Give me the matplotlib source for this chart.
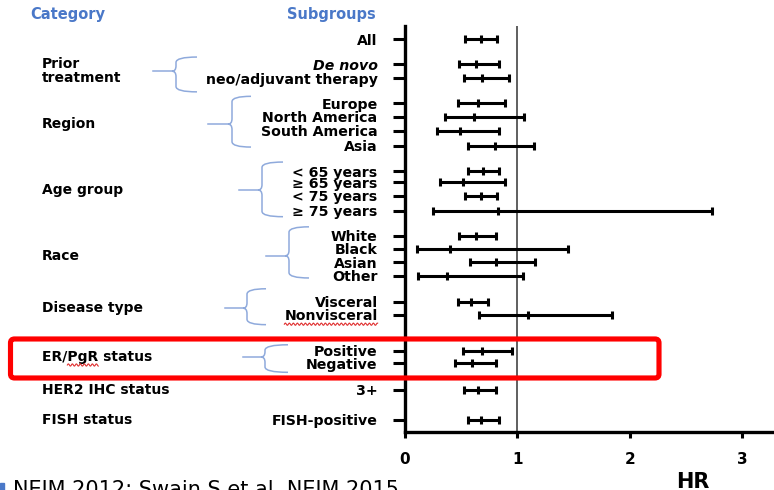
import matplotlib
matplotlib.use("Agg")
import matplotlib.pyplot as plt
import matplotlib.transforms as mtrans
from matplotlib.path import Path
from matplotlib.patches import PathPatch, FancyBboxPatch, Rectangle
import numpy as np

# ---- data ----
subgroups = ["All", "De novo", "neo/adjuvant therapy",
             "Europe", "North America", "South America", "Asia",
             "< 65 years", "≥ 65 years", "< 75 years", "≥ 75 years",
             "White", "Black", "Asian", "Other",
             "Visceral", "Nonvisceral",
             "Positive", "Negative",
             "3+", "FISH-positive"]
hr = [0.68, 0.63, 0.69,
      0.65, 0.62, 0.49, 0.80,
      0.70, 0.52, 0.68, 0.83,
      0.63, 0.40, 0.81, 0.38,
      0.59, 1.10,
      0.69, 0.60,
      0.65, 0.68]
ci_low = [0.54, 0.48, 0.53,
          0.47, 0.36, 0.29, 0.56,
          0.56, 0.31, 0.54, 0.25,
          0.48, 0.11, 0.58, 0.12,
          0.47, 0.66,
          0.52, 0.45,
          0.53, 0.56]
ci_high = [0.82, 0.84, 0.93,
           0.89, 1.06, 0.84, 1.15,
           0.84, 0.89, 0.82, 2.73,
           0.81, 1.45, 1.16, 1.05,
           0.74, 1.84,
           0.95, 0.81,
           0.81, 0.84]
categories = ["Prior\ntreatment", "Region", "Age group", "Race",
              "Disease type", "ER/PgR status", "HER2 IHC status", "FISH status"]
category_members = [[1, 2], [3, 4, 5, 6], [7, 8, 9, 10], [11, 12, 13, 14],
                    [15, 16], [17, 18], [19], [20]]
x_ticks = [0, 1, 2, 3]

# ---- layout ----
W, H = 774, 490
row_y = [0, 1.83, 2.89, 4.74, 5.73, 6.77, 7.88, 9.76, 10.59, 11.6, 12.7,
         14.56, 15.53, 16.52, 17.53, 19.44, 20.4, 23.07, 24.0, 25.98, 28.2]
# brace geometry per multi-row category: (tail start, spine x, hook end) px, (top pad, bottom pad) rows
brace_x = {0: (153, 176, 197), 1: (208, 232, 251), 2: (239, 262, 283),
           3: (266, 289, 309), 4: (225, 247, 266), 5: (243, 265, 288)}
brace_pad = {0: (0.52, 1.0), 1: (0.52, 0.1), 2: (0.67, 0.44),
             3: (0.67, 0.15), 4: (0.96, 0.74), 5: (0.44, 0.67)}

BLUE = "#4A78C8"
BRACE = "#8FAADC"
FONT = "DejaVu Sans"
plt.rcParams["font.family"] = [FONT]

fig = plt.figure(figsize=(W / 100, H / 100), dpi=100)
ax = fig.add_axes([404.7 / W, (H - 431.7) / H, (W - 404.7) / W, (431.7 - 26) / H])

hr_a = np.array(hr)
err = [hr_a - np.array(ci_low), np.array(ci_high) - hr_a]
ax.errorbar(hr, row_y, xerr=err, fmt="none", ecolor="black",
            elinewidth=2.2, capsize=3, capthick=2.2, zorder=3)
ax.plot(hr, row_y, ls="none", marker="|", ms=6, mew=2.2, color="black", zorder=4)
ax.axvline(1, color="#444444", lw=1.2, zorder=2)

ax.set_xlim(0, (W - 404.7) / 112.5)
ax.set_ylim(29.07, -0.99)
for s in ("top", "right"):
    ax.spines[s].set_visible(False)
for s in ("left", "bottom"):
    ax.spines[s].set_linewidth(2.4)

ax.set_xticks(x_ticks)
ax.set_xticklabels([str(t) for t in x_ticks], fontweight="bold", fontsize=11)
ax.tick_params(axis="x", length=4.5, width=2.2, pad=10)
ax.set_yticks(row_y)
ax.set_yticklabels(subgroups, fontweight="bold", fontsize=10.2)
ax.tick_params(axis="y", length=9, width=2.2, pad=10.5)
ax.get_yticklabels()[1].set_style("italic")

# headers
fig.text(30 / W, 1 - 14 / H, "Category", color=BLUE, fontweight="bold",
         fontsize=10.5, ha="left", va="center")
fig.text(376 / W, 1 - 14 / H, "Subgroups", color=BLUE, fontweight="bold",
         fontsize=10.5, ha="right", va="center")

# category labels and braces
trans = mtrans.blended_transform_factory(fig.transFigure, ax.transData)
cat_texts = []
for i, (label, members) in enumerate(zip(categories, category_members)):
    ym = float(np.mean([row_y[m] for m in members]))
    t = ax.text(42 / W, ym, label, transform=trans, ha="left", va="center",
                fontweight="bold", fontsize=10, linespacing=1.05)
    cat_texts.append(t)
    if i in brace_x:
        xt, xv, xe = brace_x[i]
        top = row_y[members[0]] - brace_pad[i][0]
        bot = row_y[members[-1]] + brace_pad[i][1]
        r = 0.4
        tip = xv - 4
        f = lambda px: px / W
        verts = [(f(xe), top), (f(xv), top), (f(xv), top + r),
                 (f(xv), ym - r), (f(xv), ym), (f(tip), ym),
                 (f(xv), ym), (f(xv), ym + r),
                 (f(xv), bot - r), (f(xv), bot), (f(xe), bot)]
        codes = [Path.MOVETO, Path.CURVE3, Path.CURVE3,
                 Path.LINETO, Path.CURVE3, Path.CURVE3,
                 Path.CURVE3, Path.CURVE3,
                 Path.LINETO, Path.CURVE3, Path.CURVE3]
        ax.add_patch(PathPatch(Path(verts, codes), transform=trans, fill=False,
                               edgecolor=BRACE, lw=1.1, clip_on=False))
        ax.plot([f(xt), f(tip)], [ym, ym], transform=trans, color=BRACE,
                lw=1.1, clip_on=False)

# axis title
fig.text(693 / W, 1 - 481.5 / H, "HR", ha="center", va="center",
         fontweight="bold", fontsize=15)

# reference line at the bottom
fig.text(13 / W, 1 - 480 / H, "NEJM 2012; Swain S et al. NEJM 2015",
         ha="left", va="top", fontsize=15)
fig.patches.append(Rectangle((0, 0), 4 / W, 7 / H, transform=fig.transFigure,
                             color=BLUE))

# highlight box around the ER/PgR rows and spell-check squiggles
fig.canvas.draw()
renderer = fig.canvas.get_renderer()
er_rows = category_members[5]
y_top = ax.transData.transform((0, row_y[er_rows[0]] - 0.87))[1]
y_bot = ax.transData.transform((0, row_y[er_rows[-1]] + 1.09))[1]
box = FancyBboxPatch((10.5, y_bot), 659 - 10.5, y_top - y_bot,
                     boxstyle="round,pad=0,rounding_size=4",
                     transform=mtrans.IdentityTransform(), fill=False,
                     edgecolor="#FF0000", lw=3.7, zorder=10)
fig.patches.append(box)


def squiggle(x0, x1, ybase):
    xs = np.linspace(x0, x1, int((x1 - x0) * 3))
    ys = ybase + 1.1 * np.sin((xs - x0) * 2 * np.pi / 4.0)
    fig.lines.append(plt.Line2D(xs, ys, transform=mtrans.IdentityTransform(),
                                color="#E03030", lw=0.8))


bb = ax.get_yticklabels()[16].get_window_extent(renderer)
squiggle(bb.x0, bb.x1, bb.y0 - 1)
er_text = cat_texts[5]
bb_er = er_text.get_window_extent(renderer)
probe = fig.text(0, 0, "ER/", fontweight="bold", fontsize=10)
w_pre = probe.get_window_extent(renderer).width
probe.set_text("ER/PgR")
w_full = probe.get_window_extent(renderer).width
probe.remove()
squiggle(bb_er.x0 + w_pre, bb_er.x0 + w_full, bb_er.y0 - 1)

fig.savefig("out.png", dpi=100)
